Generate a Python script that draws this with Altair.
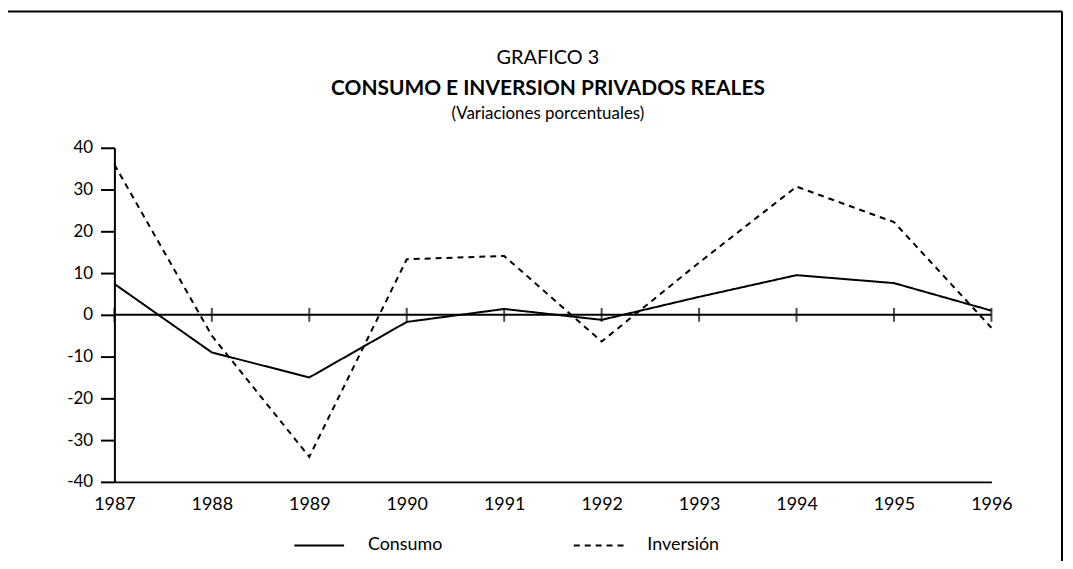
import altair as alt
import pandas as pd

years = [1987, 1988, 1989, 1990, 1991, 1992, 1993, 1994, 1995, 1996]
consumo = [7.4, -9.0, -15.0, -1.7, 1.4, -1.2, 4.3, 9.5, 7.6, 1.0]
inversion = [36.0, -5.0, -34.0, 13.3, 14.1, -6.4, 12.5, 30.7, 22.2, -3.1]
y_ticks = [-40, -30, -20, -10, 0, 10, 20, 30, 40]
series_names = ["Consumo", "Inversión"]

FONT = "Lato"
W, H = 882, 336

rows = []
for i, yr in enumerate(years):
    rows.append({"year": yr, "value": consumo[i], "serie": series_names[0]})
    rows.append({"year": yr, "value": inversion[i], "serie": series_names[1]})
df = pd.DataFrame(rows)
ticks_df = pd.DataFrame({"year": years, "zero": [0] * len(years)})

xscale = alt.Scale(domain=[years[0], years[-1]], nice=False, zero=False)
yscale = alt.Scale(domain=[-40, 40], nice=False)

lines = alt.Chart(df).mark_line(strokeWidth=2, color="black").encode(
    x=alt.X("year:Q", scale=xscale,
            axis=alt.Axis(values=years, format="d", title=None, ticks=False,
                          grid=False, domainColor="black", domainWidth=2,
                          labelFont=FONT, labelFontSize=18, labelColor="black",
                          labelPadding=14, labelFlush=False)),
    y=alt.Y("value:Q", scale=yscale,
            axis=alt.Axis(values=y_ticks, title=None, grid=False,
                          domainColor="black", domainWidth=2,
                          tickColor="black", tickWidth=2, tickSize=14,
                          labelFont=FONT, labelFontSize=17, labelColor="black",
                          labelPadding=8, labelExpr="toString(datum.value)")),
    strokeDash=alt.StrokeDash("serie:N",
        scale=alt.Scale(domain=series_names, range=[[1, 0], [6, 5]]),
        legend=alt.Legend(title=None, orient="none", direction="horizontal",
                          legendX=180, legendY=374, padding=0,
                          symbolType="stroke", symbolSize=2500,
                          symbolStrokeWidth=2, symbolStrokeColor="black",
                          labelFont=FONT, labelFontSize=18, labelColor="black",
                          labelOffset=23, columnPadding=128)),
)

zero_rule = alt.Chart(ticks_df).mark_rule(color="black", strokeWidth=2).encode(
    x=alt.X("min(year):Q", scale=xscale),
    x2=alt.X2("max(year):Q"),
    y=alt.Y("mean(zero):Q", scale=yscale),
)

zero_ticks = alt.Chart(ticks_df).mark_tick(color="black", thickness=2, size=14,
                                           orient="vertical").encode(
    x=alt.X("year:Q", scale=xscale),
    y=alt.Y("zero:Q", scale=yscale),
)

def text_mark(txt, y, size, weight="normal"):
    return alt.Chart(pd.DataFrame({"t": [txt]})).mark_text(
        font=FONT, fontSize=size, fontWeight=weight, color="black",
        align="center", baseline="alphabetic").encode(
        text="t:N", x=alt.value(W / 2 - 5), y=alt.value(y))

t1 = text_mark("GRAFICO 3", -84, 20)
t2 = text_mark("CONSUMO E INVERSION PRIVADOS REALES", -53, 21, "bold")
t3 = text_mark("(Variaciones porcentuales)", -29, 17)

frame_df = pd.DataFrame({"a": [0]})
frame_top = alt.Chart(frame_df).mark_rule(color="black", strokeWidth=2).encode(
    x=alt.value(-110), x2=alt.value(953), y=alt.value(-137))
frame_left = alt.Chart(frame_df).mark_rule(color="black", strokeWidth=2).encode(
    x=alt.value(-110), y=alt.value(-137), y2=alt.value(500))
frame_right = alt.Chart(frame_df).mark_rule(color="black", strokeWidth=2).encode(
    x=alt.value(953), y=alt.value(-137), y2=alt.value(500))

chart = alt.layer(
    frame_top, frame_left, frame_right, t1, t2, t3,
    zero_rule, zero_ticks, lines,
).properties(
    width=W, height=H,
    autosize=alt.AutoSizeParams(type="none"),
    padding={"left": 107, "top": 139, "right": 74, "bottom": 78},
    background="white",
).configure_view(strokeWidth=0)

chart.save("out.html", embed_options={"renderer": "svg", "actions": False})
